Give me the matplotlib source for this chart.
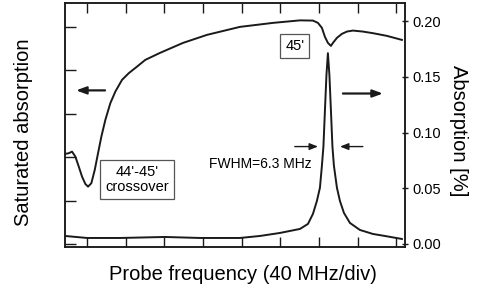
import matplotlib
matplotlib.use("Agg")
import matplotlib.pyplot as plt

plt.rcParams['font.family'] = ['Liberation Sans', 'DejaVu Sans']

# Saturated absorption (arb. units, left axis), x in divisions (40 MHz/div)
sat_x = [-0.568, -0.473, -0.388, -0.302, -0.214, -0.129, -0.044, 0.026, 0.111, 0.199,
         0.284, 0.370, 0.473, 0.602, 0.731, 0.904, 1.078, 1.292, 1.506, 1.886,
         2.481, 3.101, 3.953, 4.806, 5.504, 5.840, 5.969, 6.072, 6.150, 6.227,
         6.305, 6.357, 6.460, 6.589, 6.718, 6.873, 7.132, 7.390, 7.752, 8.140]
sat_y = [2.074, 2.090, 2.127, 2.012, 1.781, 1.551, 1.382, 1.320, 1.399, 1.705,
         2.090, 2.472, 2.857, 3.242, 3.509, 3.779, 3.933, 4.085, 4.240, 4.401,
         4.631, 4.816, 5.000, 5.092, 5.150, 5.145, 5.092, 4.977, 4.770, 4.631,
         4.562, 4.631, 4.747, 4.839, 4.892, 4.915, 4.892, 4.855, 4.793, 4.700]

# Absorption [%] (right axis)
abs_x = [-0.568, 0.0, 0.853, 2.016, 2.920, 3.953, 4.470, 4.987, 5.504, 5.711,
         5.840, 5.943, 6.021, 6.072, 6.111, 6.150, 6.189, 6.227, 6.266, 6.305,
         6.344, 6.382, 6.460, 6.537, 6.641, 6.796, 7.054, 7.390, 7.700, 8.140]
abs_y = [0.0072, 0.0054, 0.0054, 0.0063, 0.0054, 0.0054, 0.0072, 0.0099, 0.0135, 0.0180,
         0.0270, 0.0387, 0.0505, 0.0703, 0.0874, 0.1198, 0.1514, 0.1712, 0.1514, 0.1198,
         0.0874, 0.0703, 0.0505, 0.0387, 0.0279, 0.0189, 0.0126, 0.0090, 0.0072, 0.0045]

x_ticks = [0, 1, 2, 3, 4, 5, 6, 7, 8]
left_ticks = [0, 1, 2, 3, 4, 5]
right_ticks = [0.00, 0.05, 0.10, 0.15, 0.20]
right_labels = ['0.00', '0.05', '0.10', '0.15', '0.20']

fig = plt.figure(figsize=(4.81, 2.93), dpi=100)
ax = fig.add_axes([65/481, 46/293, 340/481, 244/293])
ax2 = ax.twinx()

ink = '#1a1a1a'
ax.plot(sat_x, sat_y, color=ink, lw=1.4)
ax2.plot(abs_x, abs_y, color=ink, lw=1.4)

ax.set_xlim(-0.57, 8.22)
ax.set_ylim(-0.07, 5.55)
ax2.set_ylim(-0.0027, 0.2162)

ax.set_xticks(x_ticks)
ax.set_xticklabels([])
ax.set_yticks(left_ticks)
ax.set_yticklabels([])
ax.tick_params(axis='x', direction='in', length=7, width=1, top=True, bottom=True, color=ink)
ax.tick_params(axis='y', direction='in', length=8, width=1, left=True, right=False, color=ink)
ax2.set_yticks(right_ticks)
ax2.set_yticklabels(right_labels)
ax2.tick_params(axis='y', direction='inout', length=5, width=1, pad=3, labelsize=10.5, color=ink)
for a in (ax, ax2):
    for s in a.spines.values():
        s.set_linewidth(1.1)
        s.set_color(ink)

fig.text(24/481, 1 - 132/293, 'Saturated absorption', rotation=90, ha='center', va='center', fontsize=14.5)
fig.text(459/481, 1 - 131/293, 'Absorption [%]', rotation=270, ha='center', va='center', fontsize=14.5)
fig.text(243/481, 1 - 274/293, 'Probe frequency (40 MHz/div)', ha='center', va='center', fontsize=14.5)

box = dict(boxstyle='square,pad=0.35', fc='white', ec='#555555', lw=0.9)
ax2.text(5.37, 0.1775, "45'", ha='center', va='center', fontsize=10.5, bbox=box)
ax2.text(1.29, 0.0577, "44'-45'\ncrossover", ha='center', va='center', fontsize=10.5,
         linespacing=1.1, bbox=box)
ax2.text(4.47, 0.072, 'FWHM=6.3 MHz', ha='center', va='center', fontsize=10)

arr = dict(arrowstyle='-|>,head_length=0.5,head_width=0.2', color=ink, lw=1.0, shrinkA=0, shrinkB=0)
ax2.annotate('', xy=(5.97, 0.0874), xytext=(5.37, 0.0874), arrowprops=arr)
ax2.annotate('', xy=(6.54, 0.0874), xytext=(7.13, 0.0874), arrowprops=arr)
arr2 = dict(arrowstyle='-|>,head_length=0.6,head_width=0.22', color=ink, lw=1.6, shrinkA=0, shrinkB=0)
ax2.annotate('', xy=(-0.284, 0.1378), xytext=(0.465, 0.1378), arrowprops=arr2)
ax2.annotate('', xy=(7.649, 0.135), xytext=(6.615, 0.135), arrowprops=arr2)

fig.savefig('out.png', dpi=100)
